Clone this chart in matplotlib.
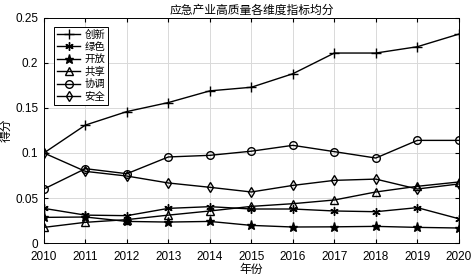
import matplotlib
matplotlib.use("Agg")
import matplotlib.pyplot as plt
import numpy as np

plt.rcParams['font.family'] = ['Liberation Sans', 'Noto Sans CJK SC']

# datos
years = np.arange(2010, 2021)
chuangxin = [0.100, 0.131, 0.146, 0.156, 0.169, 0.173, 0.188, 0.211, 0.211, 0.218, 0.232]
lvse = [0.0385, 0.031, 0.0304, 0.0385, 0.0404, 0.0378, 0.0378, 0.0356, 0.0348, 0.0393, 0.027]
kaifang = [0.0285, 0.0289, 0.024, 0.0233, 0.024, 0.0196, 0.0178, 0.018, 0.0185, 0.0174, 0.0167]
gongxiang = [0.0174, 0.023, 0.026, 0.031, 0.0356, 0.0407, 0.0437, 0.0478, 0.0567, 0.063, 0.0678]
xietiao = [0.060, 0.0826, 0.077, 0.0956, 0.0974, 0.102, 0.1085, 0.1015, 0.0944, 0.114, 0.114]
anquan = [0.100, 0.0796, 0.0744, 0.0667, 0.0619, 0.0567, 0.064, 0.0696, 0.071, 0.060, 0.0656]

fig = plt.figure(figsize=(4.72, 2.80), dpi=100)
ax = fig.add_axes([0.093, 0.132, 0.879, 0.804])

ax.plot(years, chuangxin, '-+', color='black', lw=1, ms=7, mew=1, label='创新')
ax.plot(years, lvse, '-', marker=(6, 2, 0), color='black', lw=1, ms=6, mew=1, label='绿色')
ax.plot(years, kaifang, '-*', color='black', lw=1, ms=6.5, label='开放')
ax.plot(years, gongxiang, '-^', color='black', lw=1, ms=5.5, mfc='none', label='共享')
ax.plot(years, xietiao, '-o', color='black', lw=1, ms=5.5, mfc='none', label='协调')
ax.plot(years, anquan, '-d', color='black', lw=1, ms=5.5, mfc='none', label='安全')

ax.set_xlim(2010, 2020)
ax.set_ylim(0, 0.25)
ax.set_xticks(years)
ax.set_yticks([0, 0.05, 0.1, 0.15, 0.2, 0.25])
ax.set_yticklabels(['0', '0.05', '0.1', '0.15', '0.2', '0.25'])
ax.tick_params(direction='in', labelsize=8.5, length=3, top=True, right=True)
ax.tick_params(axis='x', pad=6)
ax.tick_params(axis='y', pad=4)
ax.grid(True, color='#d9d9d9', lw=0.7)
for s in ax.spines.values():
    s.set_linewidth(0.7)

ax.set_title('应急产业高质量各维度指标均分', fontsize=8.5, pad=3, family=['Noto Sans CJK SC'])
ax.set_xlabel('年份', fontsize=8.5, labelpad=0, family=['Noto Sans CJK SC'])
ax.set_ylabel('得分', fontsize=8.5, labelpad=2, family=['Noto Sans CJK SC'])

leg = ax.legend(loc='upper left', prop={'family': 'Noto Sans CJK SC', 'size': 7.5},
                fancybox=False, edgecolor='black', framealpha=1, handlelength=2.2,
                labelspacing=0.22, borderpad=0.3, handletextpad=0.4,
                bbox_to_anchor=(0.012, 0.985))
leg.get_frame().set_linewidth(0.7)

fig.savefig('out.png', dpi=100)
